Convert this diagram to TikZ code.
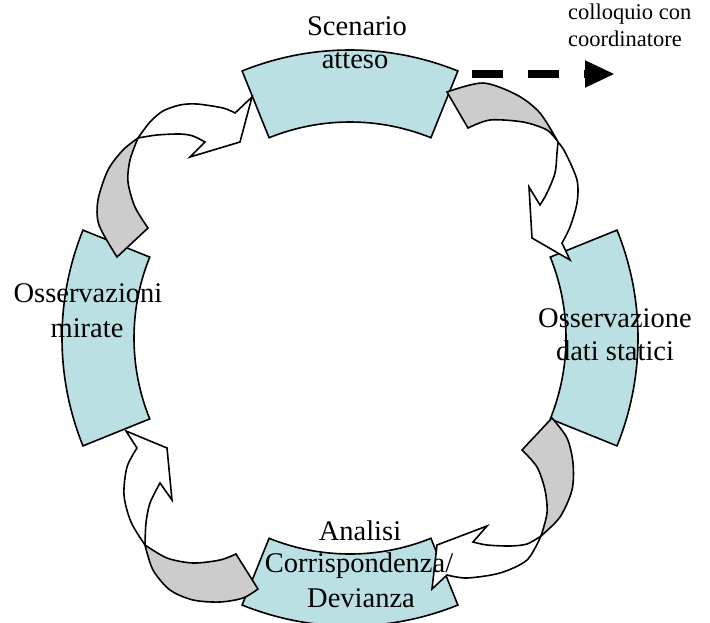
\documentclass[tikz,border=0pt]{standalone}
\usepackage{fontspec}
\setmainfont{Liberation Serif}
\usetikzlibrary{arrows.meta,calc}
\definecolor{blockfill}{RGB}{187,224,227}
\definecolor{ribbongrey}{RGB}{204,204,204}
\begin{document}
\begin{tikzpicture}[x=1pt,y=-1pt,
  block/.style={draw=black, line width=1.6pt, fill=blockfill, line join=miter},
  ribbonback/.style={draw=black, line width=1.6pt, fill=ribbongrey, line join=miter},
  ribbonfront/.style={draw=black, line width=1.6pt, fill=white, line join=miter},
  lbl/.style={inner sep=0pt, anchor=base, font=\fontsize{28.5}{33}\selectfont},
  note/.style={inner sep=0pt, anchor=base west, font=\fontsize{22.5}{27}\selectfont},
  dashedarrow/.style={line width=8pt, dash pattern=on 31pt off 25pt, -{Triangle[length=30pt,width=25pt]}}
]
\useasboundingbox (0,0) rectangle (710,622);
\coordinate (c) at (350,338);
% four annular blocks
\foreach \a in {270,0,90,180} {
  \path[block] ($(c)+(\a-22:288)$) arc[start angle=\a-22, end angle=\a+22, radius=288]
     -- ($(c)+(\a+22:216)$) arc[start angle=\a+22, end angle=\a-22, radius=216] -- cycle;
}
% ribbon 1: top -> right
\path[ribbonback] plot[smooth] coordinates {(447,92) (483,83) (517,95) (540,113) (558,142)}
  -- plot[smooth] coordinates {(558,142) (547,130) (523,122) (490,120) (468,128)} -- cycle;
\path[ribbonfront] plot[smooth] coordinates {(558,142) (565,152) (577,180) (577,203) (570,227) (562,243)}
  -- (570,260) -- (532,238) -- (529,187) -- (540,205)
  -- plot[smooth] coordinates {(540,205) (547,193) (555,173) (557,153) (558,142)} -- cycle;
% ribbon 2: right -> bottom
\path[ribbonback] plot[smooth] coordinates {(552,418) (567,438) (573,463) (572,490) (560,517) (541,536)}
  -- plot[smooth] coordinates {(541,536) (547,513) (545,490) (537,467) (522,450)} -- cycle;
\path[ribbonfront] plot[smooth] coordinates {(541,536) (527,544) (510,546) (487,545) (473,542)}
  -- (487,526) -- (437,545) -- (432,589) -- (447,575)
  -- plot[smooth] coordinates {(447,575) (467,578) (500,573) (527,560) (541,536)} -- cycle;
% ribbon 3: bottom -> left
\path[ribbonback] plot[smooth] coordinates {(236,554) (220,560) (193,563) (167,558) (145,545)}
  -- plot[smooth] coordinates {(145,545) (153,570) (170,590) (193,600) (220,602) (243,598) (258,589)} -- cycle;
\path[ribbonfront] plot[smooth] coordinates {(145,545) (131,522) (124,495) (127,467) (137,448)}
  -- (126,431) -- (167,448) -- (172,500) -- (160,483)
  -- plot[smooth] coordinates {(160,483) (150,503) (146,523) (145,545)} -- cycle;
% ribbon 4: left -> top
\path[ribbonback] plot[smooth] coordinates {(117,257) (99,225) (98,200) (108,170) (123,150) (138,138)}
  -- plot[smooth] coordinates {(138,138) (130,160) (128,182) (135,207) (148,228)} -- cycle;
\path[ribbonfront] plot[smooth] coordinates {(138,138) (150,122) (163,111) (180,105) (197,104) (223,108) (235,113)}
  -- (252,97) -- (240,142) -- (190,157) -- (205,142)
  -- plot[smooth] coordinates {(205,142) (193,136) (180,134) (157,135) (138,138)} -- cycle;
% dashed arrow
\coordinate (dstart) at (472,74);
\coordinate (dend) at (615,74);
\draw[dashedarrow] (dstart) -- (dend);
% labels
\node[lbl] (scen1) at (357,35) {Scenario};
\node[lbl] (scen2) at (355,68) {atteso};
\node[lbl] (oss1) at (615,327) {Osservazione};
\node[lbl] (oss2) at (615,360) {dati statici};
\node[lbl] (mir1) at (88,302) {Osservazioni};
\node[lbl] (mir2) at (87,337) {mirate};
\node[lbl] (an1) at (360,540) {Analisi};
\node[lbl] (an2) at (359,572) {Corrispondenza/};
\node[lbl] (an3) at (361,607) {Devianza};
\node[note] (col1) at (568,19) {colloquio con};
\node[note] (col2) at (568,46) {coordinatore};
\end{tikzpicture}
\end{document}
